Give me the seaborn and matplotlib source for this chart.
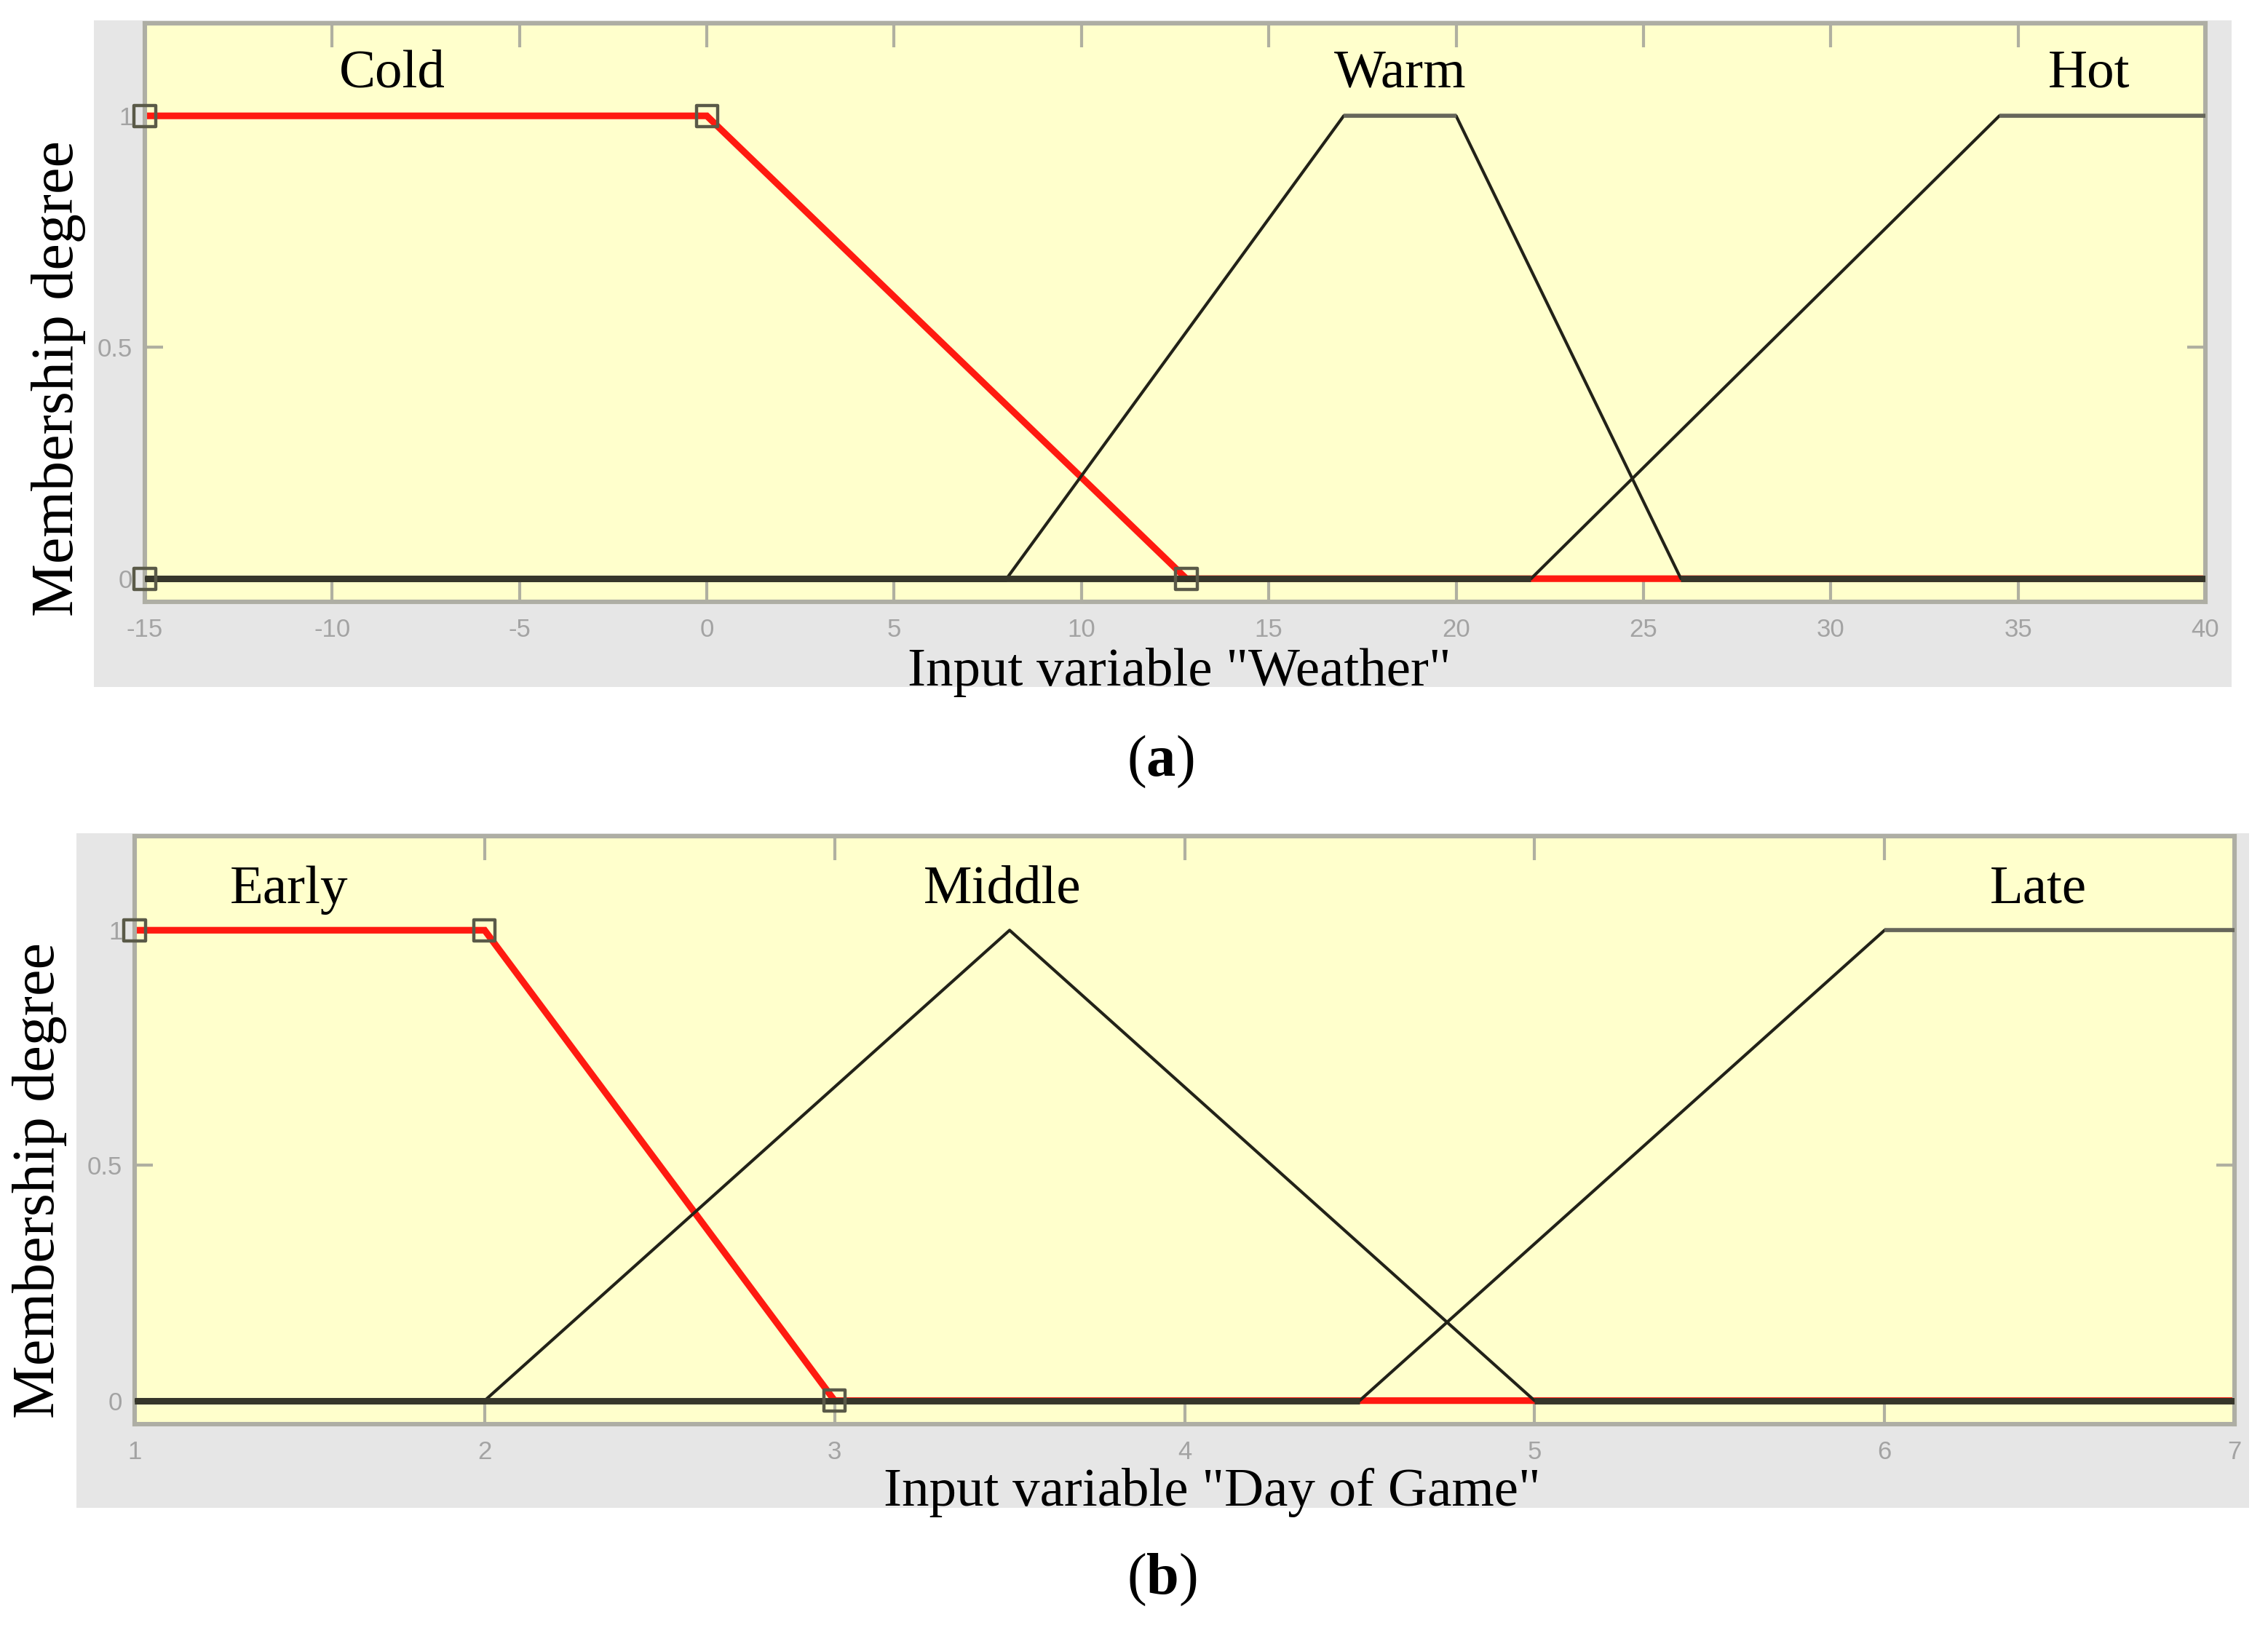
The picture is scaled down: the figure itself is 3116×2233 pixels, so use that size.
import numpy as np
import pandas as pd
import matplotlib
matplotlib.use("Agg")
import matplotlib.pyplot as plt
import seaborn as sns
from matplotlib import font_manager as fm
from matplotlib.patches import Rectangle

# ---------------- data ----------------
weather_ticks = [-15, -10, -5, 0, 5, 10, 15, 20, 25, 30, 35, 40]
weather_cold_x = [-15, 0, 12.8, 40]
weather_cold_y = [1, 1, 0, 0]
weather_warm_x = [-15, 8, 17, 20, 26, 40]
weather_warm_y = [0, 0, 1, 1, 0, 0]
weather_hot_x = [-15, 22, 34.5, 40]
weather_hot_y = [0, 0, 1, 1]
weather_cold_marks_x = [-15, -15, 0, 12.8]
weather_cold_marks_y = [0, 1, 1, 0]
weather_labels = ["Cold", "Warm", "Hot"]
weather_label_x = [-8.4, 18.5, 36.9]

day_ticks = [1, 2, 3, 4, 5, 6, 7]
day_early_x = [1, 2, 3, 7]
day_early_y = [1, 1, 0, 0]
day_middle_x = [1, 2, 3.5, 5, 7]
day_middle_y = [0, 0, 1, 0, 0]
day_late_x = [1, 4.5, 6, 7]
day_late_y = [0, 0, 1, 1]
day_early_marks_x = [1, 2, 3]
day_early_marks_y = [1, 1, 0]
day_labels = ["Early", "Middle", "Late"]
day_label_x = [1.44, 3.48, 6.44]

y_ticks = [0, 0.5, 1]
y_tick_labels = ["0", "0.5", "1"]

# ---------------- style ----------------
sns.set_theme(style="white")


def has_font(name):
    try:
        fm.findfont(fm.FontProperties(family=name), fallback_to_default=False)
        return True
    except Exception:
        return False


SERIF = "Liberation Serif" if has_font("Liberation Serif") else "DejaVu Serif"
TICKFONT = "Liberation Sans Narrow" if has_font("Liberation Sans Narrow") else (
    "Liberation Sans" if has_font("Liberation Sans") else "DejaVu Sans")

plt.rcParams["font.family"] = [SERIF, "DejaVu Serif"]
plt.rcParams["mathtext.fontset"] = "custom"
plt.rcParams["mathtext.rm"] = SERIF
plt.rcParams["mathtext.bf"] = SERIF + ":bold"

W, H = 3116, 2233
DPI = 200
fig = plt.figure(figsize=(W / DPI, H / DPI), dpi=DPI)
fig.patch.set_facecolor("white")

GRAY_BG = "#e6e6e6"
AX_BG = "#ffffcc"
RED = "#ff1a10"
BLACK = "#222218"
BASE = "#36362a"
TOP = "#66665a"


def px_rect(x0, y0, x1, y1):
    return [x0 / W, 1 - y1 / H, (x1 - x0) / W, (y1 - y0) / H]


def draw_mf(ax, xs, ys, selected):
    df = pd.DataFrame({"x": xs, "y": ys})
    if selected:
        sns.lineplot(data=df, x="x", y="y", sort=False, estimator=None,
                     color=RED, lw=3.3, ax=ax, zorder=2,
                     solid_joinstyle="miter")
        return
    sns.lineplot(data=df, x="x", y="y", sort=False, estimator=None,
                 color=BLACK, lw=1.5, ax=ax, zorder=3)
    for i in range(len(xs) - 1):
        if ys[i] == 0 and ys[i + 1] == 0:
            ax.plot(xs[i:i + 2], ys[i:i + 2], color=BASE, lw=3.2,
                    solid_capstyle="butt", zorder=3.5)
        elif ys[i] == 1 and ys[i + 1] == 1:
            ax.plot(xs[i:i + 2], ys[i:i + 2], color=TOP, lw=2.0,
                    solid_capstyle="butt", zorder=3.5)


def style_axes(ax, xlim, xticks):
    ax.set_facecolor(AX_BG)
    ax.set_xlim(*xlim)
    ax.set_ylim(-0.05, 1.2)
    ax.set_xticks(xticks)
    ax.set_xticklabels([str(t) for t in xticks])
    ax.set_yticks(y_ticks)
    ax.set_yticklabels(y_tick_labels)
    ax.set_xlabel("")
    ax.set_ylabel("")
    for s in ax.spines.values():
        s.set_color("#aeaea4")
        s.set_linewidth(2.2)
        s.set_visible(True)
    ax.tick_params(axis="x", which="major", direction="in", top=True,
                   bottom=True, length=12, width=1.5, color="#b0b0a0",
                   labelsize=12.5, labelcolor="#a3a3a3", pad=8)
    ax.tick_params(axis="y", which="major", direction="in", left=True,
                   right=True, length=9, width=1.5, color="#b0b0a0",
                   labelsize=12.5, labelcolor="#a3a3a3", pad=6)
    for lab in ax.get_xticklabels() + ax.get_yticklabels():
        lab.set_family(TICKFONT)
    ax.grid(False)


def add_frame(x0, y0, x1, y1):
    r = px_rect(x0, y0, x1, y1)
    fig.add_artist(Rectangle((r[0], r[1]), r[2], r[3],
                             transform=fig.transFigure, facecolor=GRAY_BG,
                             edgecolor="none", zorder=-5))


add_frame(129, 28, 3066, 944)
add_frame(105, 1145, 3090, 2072)

# ---------------- panel (a) ----------------
ax1 = fig.add_axes(px_rect(199, 32, 3030, 827))
draw_mf(ax1, weather_cold_x, weather_cold_y, True)
draw_mf(ax1, weather_warm_x, weather_warm_y, False)
draw_mf(ax1, weather_hot_x, weather_hot_y, False)
sns.scatterplot(x=weather_cold_marks_x, y=weather_cold_marks_y, marker="s",
                s=110, facecolor="none", edgecolor="#5a5a48", linewidth=1.6,
                ax=ax1, zorder=6, clip_on=False)
style_axes(ax1, (-15, 40), weather_ticks)
for lab, x in zip(weather_labels, weather_label_x):
    ax1.text(x, 1.062, lab, ha="center", va="baseline", fontsize=27,
             color="black")

# ---------------- panel (b) ----------------
ax2 = fig.add_axes(px_rect(185, 1149, 3070, 1957))
draw_mf(ax2, day_early_x, day_early_y, True)
draw_mf(ax2, day_middle_x, day_middle_y, False)
draw_mf(ax2, day_late_x, day_late_y, False)
sns.scatterplot(x=day_early_marks_x, y=day_early_marks_y, marker="s",
                s=110, facecolor="none", edgecolor="#5a5a48", linewidth=1.6,
                ax=ax2, zorder=6, clip_on=False)
style_axes(ax2, (1, 7), day_ticks)
for lab, x in zip(day_labels, day_label_x):
    ax2.text(x, 1.058, lab, ha="center", va="baseline", fontsize=27,
             color="black")

# ---------------- figure texts ----------------
fig.text(80 / W, 1 - 520 / H, "Membership degree", rotation=90,
         ha="center", va="center", fontsize=29.5, color="black")
fig.text(54 / W, 1 - 1622 / H, "Membership degree", rotation=90,
         ha="center", va="center", fontsize=29.5, color="black")
fig.text(1620 / W, 1 - 942 / H, 'Input variable "Weather"',
         ha="center", va="baseline", fontsize=27, color="black")
fig.text(1665 / W, 1 - 2069 / H, 'Input variable "Day of Game"',
         ha="center", va="baseline", fontsize=27, color="black")
fig.text(1594 / W, 1 - 1066 / H, r"($\mathbf{a}$)",
         ha="center", va="baseline", fontsize=29, color="black")
fig.text(1596 / W, 1 - 2190 / H, r"($\mathbf{b}$)",
         ha="center", va="baseline", fontsize=29, color="black")

fig.savefig("out.png", dpi=DPI, facecolor="white")
